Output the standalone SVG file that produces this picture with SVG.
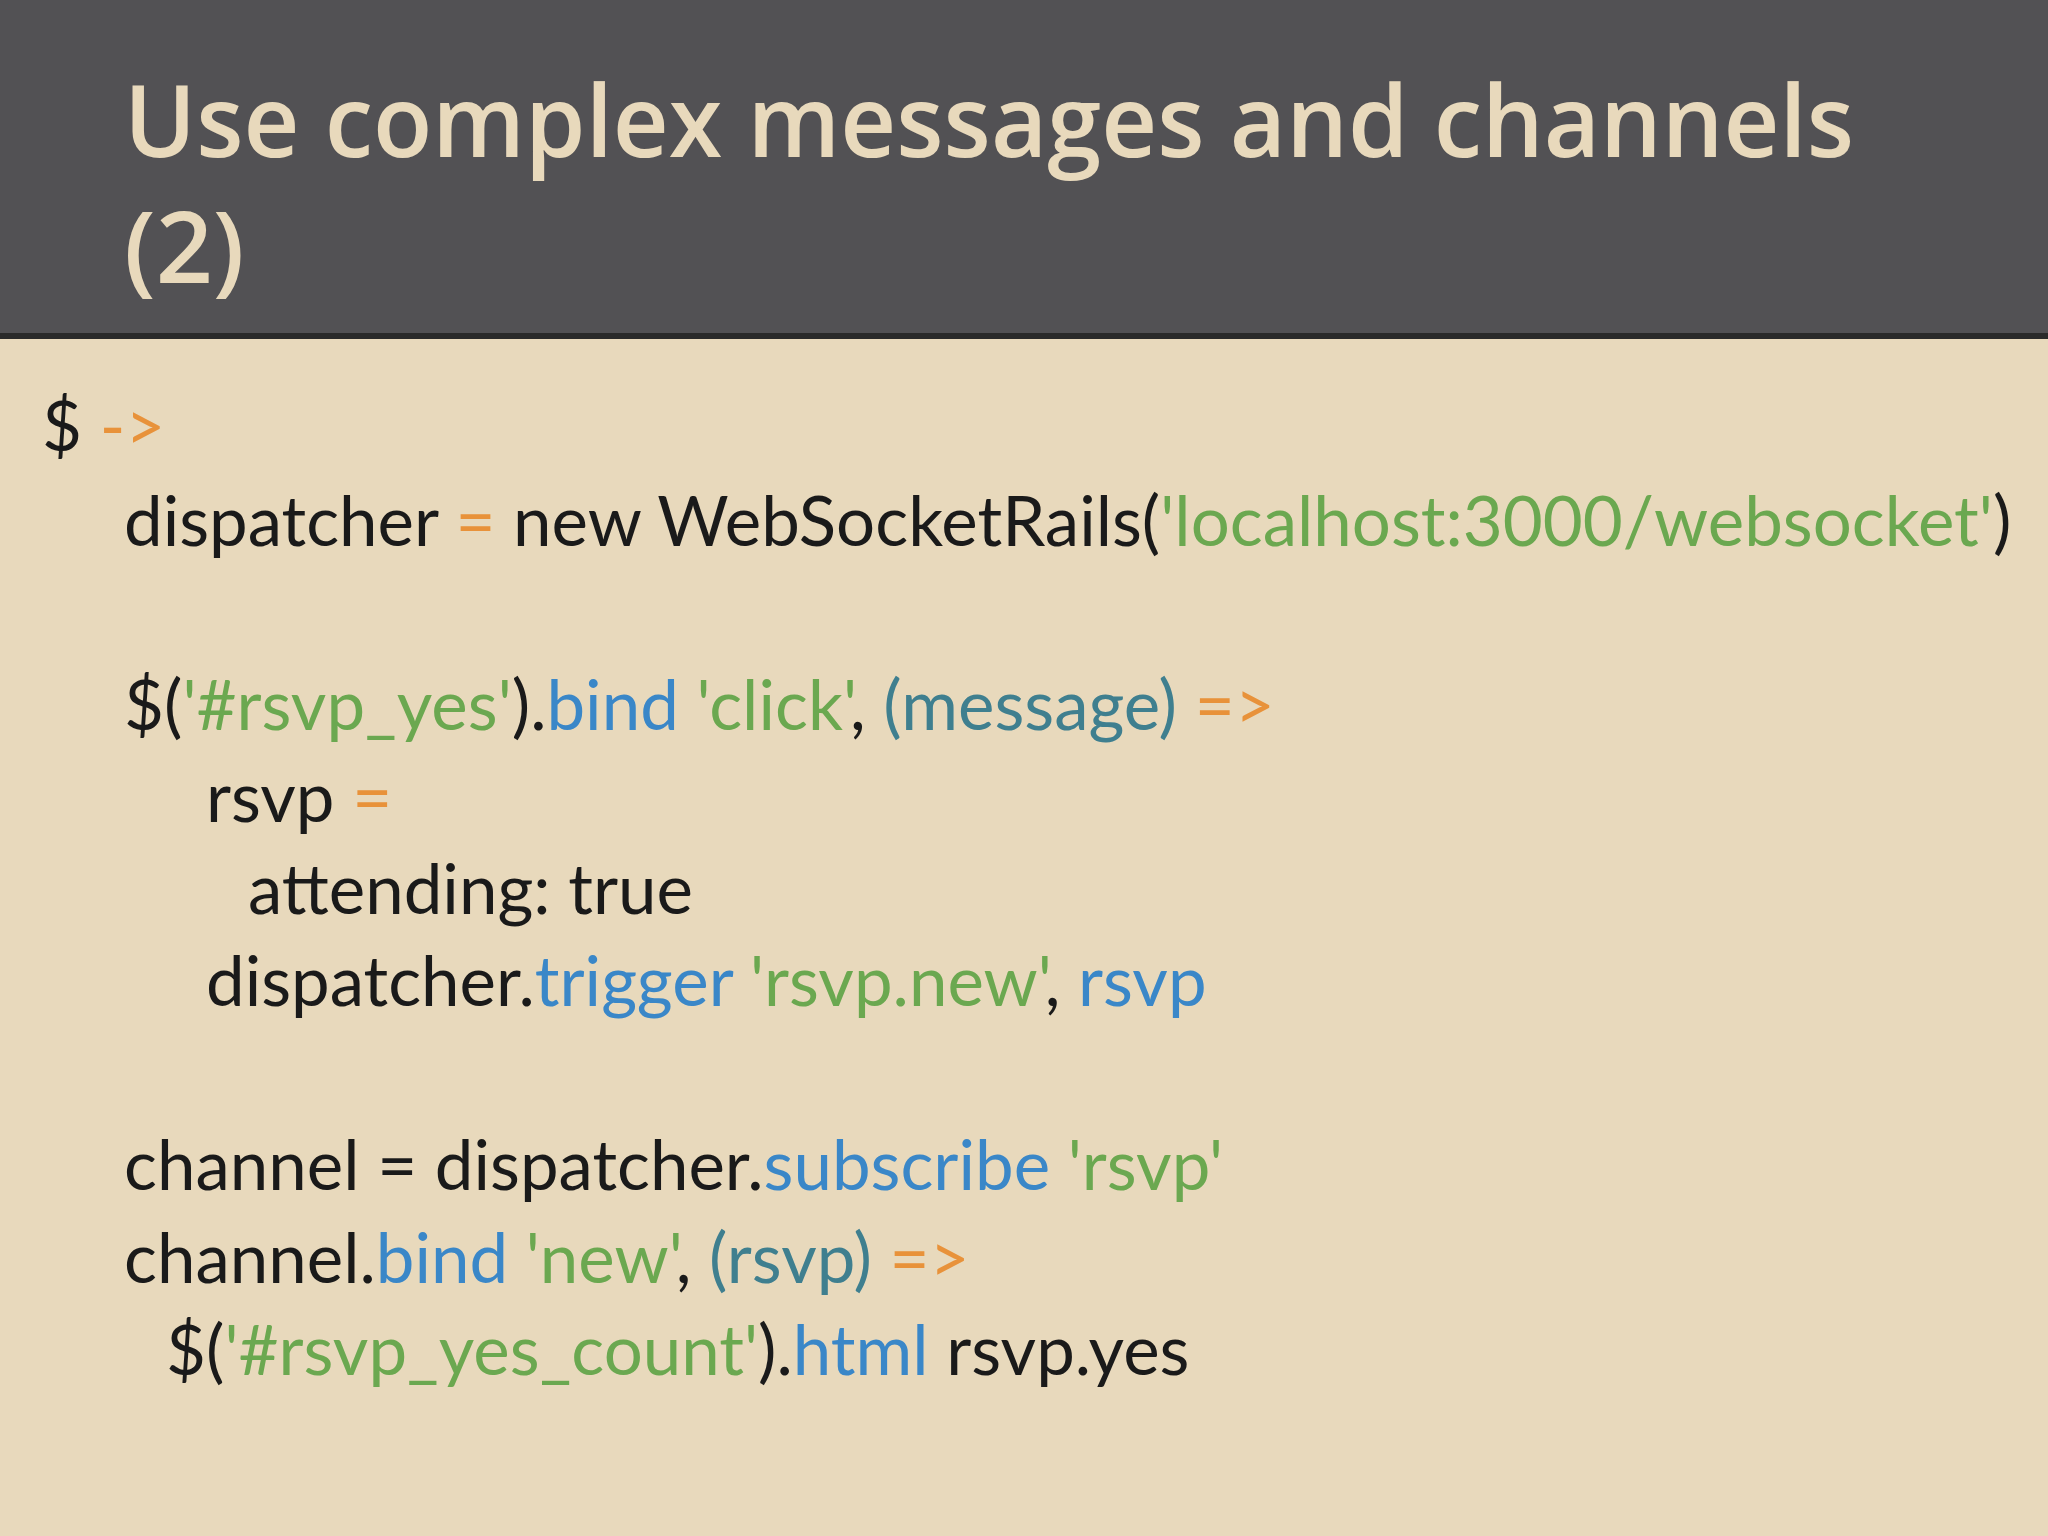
<svg xmlns="http://www.w3.org/2000/svg" width="2048" height="1536" viewBox="0 0 2048 1536">
<style>
.t{font-family:"Open Sans","DejaVu Sans",sans-serif;font-weight:600;font-size:100px;fill:#E8D9BC}
.c{font-family:Lato,"DejaVu Sans",sans-serif;font-size:69px;fill:#1a1a1a}
.o{fill:#E8923A}.g{fill:#6BA850}.b{fill:#3A87C8}.p{fill:#3F7F8F}
</style>
<rect width="2048" height="1536" fill="#E8D9BC"/>
<rect width="2048" height="333" fill="#525154"/>
<rect y="333" width="2048" height="6" fill="#2a2a2a"/>
<g id="title">
<text class="t" x="124" y="157" textLength="1730" lengthAdjust="spacingAndGlyphs">Use complex messages and channels</text>
<text class="t" x="124" y="283">(2)</text>
</g>
<g id="code">
<text class="c" x="42" y="451">$ <tspan class="o">-&gt;</tspan></text>
<text class="c" x="124" y="546">dispatcher <tspan class="o">=</tspan> new WebSocketRails(<tspan class="g">'localhost:3000/websocket'</tspan>)</text>
<text class="c" x="124" y="730">$(<tspan class="g">'#rsvp_yes'</tspan>).<tspan class="b">bind</tspan> <tspan class="g">'click'</tspan>, <tspan class="p">(message)</tspan> <tspan class="o">=&gt;</tspan></text>
<text class="c" x="206" y="822">rsvp <tspan class="o">=</tspan></text>
<text class="c" x="248" y="914">attending: true</text>
<text class="c" x="206" y="1006">dispatcher.<tspan class="b">trigger</tspan> <tspan class="g">'rsvp.new'</tspan>, <tspan class="b">rsvp</tspan></text>
<text class="c" x="124" y="1190">channel = dispatcher.<tspan class="b">subscribe</tspan> <tspan class="g">'rsvp'</tspan></text>
<text class="c" x="124" y="1283">channel.<tspan class="b">bind</tspan> <tspan class="g">'new'</tspan>, <tspan class="p">(rsvp)</tspan> <tspan class="o">=&gt;</tspan></text>
<text class="c" x="166" y="1375">$(<tspan class="g">'#rsvp_yes_count'</tspan>).<tspan class="b">html</tspan> rsvp.yes</text>
</g>
</svg>
